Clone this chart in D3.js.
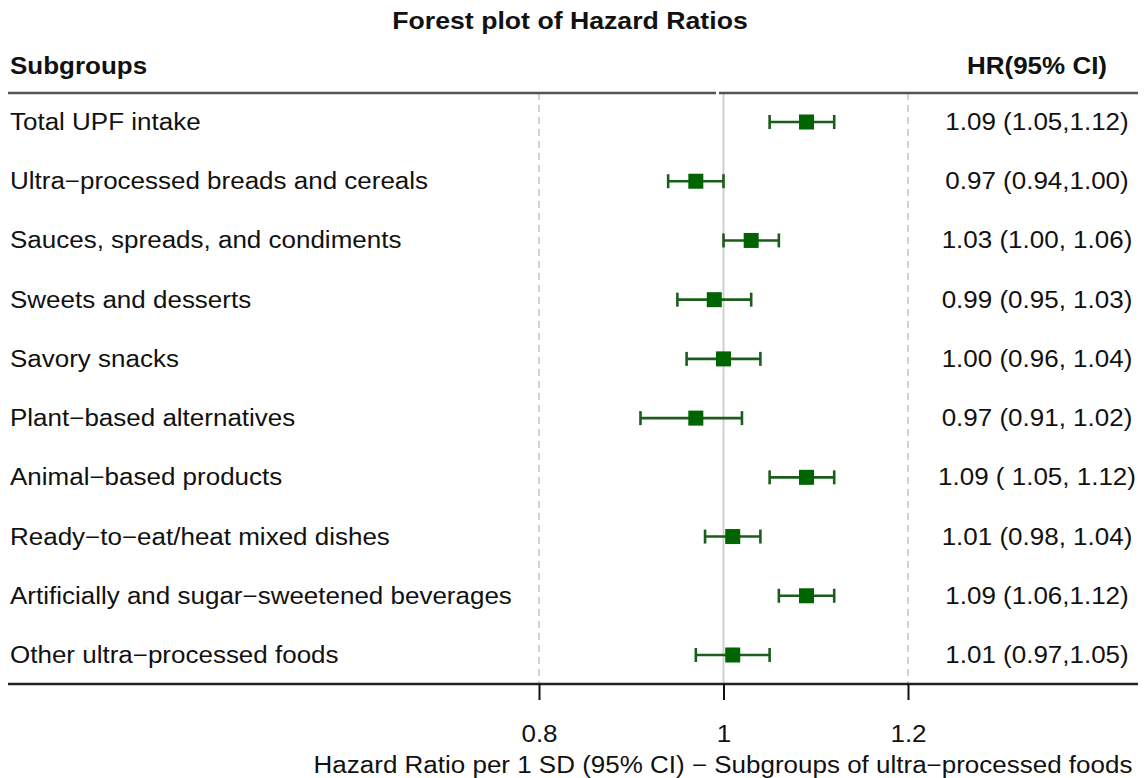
<!DOCTYPE html>
<html>
<head>
<meta charset="utf-8">
<script src="https://cdn.jsdelivr.net/npm/d3@7"></script>
<style>
  html, body { margin: 0; padding: 0; background: #fff; }
  svg { display: block; font-family: "Liberation Sans", Arial, Helvetica, sans-serif; }
</style>
</head>
<body>
<svg id="chart" width="1147" height="778"></svg>
<script>
const subgroups = [
  "Total UPF intake",
  "Ultra\u2212processed breads and cereals",
  "Sauces, spreads, and condiments",
  "Sweets and desserts",
  "Savory snacks",
  "Plant\u2212based alternatives",
  "Animal\u2212based products",
  "Ready\u2212to\u2212eat/heat mixed dishes",
  "Artificially and sugar\u2212sweetened beverages",
  "Other ultra\u2212processed foods"
];
const hr    = [1.09, 0.97, 1.03, 0.99, 1.00, 0.97, 1.09, 1.01, 1.09, 1.01];
const lower = [1.05, 0.94, 1.00, 0.95, 0.96, 0.91, 1.05, 0.98, 1.06, 0.97];
const upper = [1.12, 1.00, 1.06, 1.03, 1.04, 1.02, 1.12, 1.04, 1.12, 1.05];
const hrLabels = [
  "1.09 (1.05,1.12)",
  "0.97 (0.94,1.00)",
  "1.03 (1.00, 1.06)",
  "0.99 (0.95, 1.03)",
  "1.00 (0.96, 1.04)",
  "0.97 (0.91, 1.02)",
  "1.09 ( 1.05, 1.12)",
  "1.01 (0.98, 1.04)",
  "1.09 (1.06,1.12)",
  "1.01 (0.97,1.05)"
];
const tickValues = [0.8, 1, 1.2];
const tickLabels = ["0.8", "1", "1.2"];
const titleText = "Forest plot of Hazard Ratios";
const leftHeader = "Subgroups";
const rightHeader = "HR(95% CI)";
const xAxisTitle = "Hazard Ratio per 1 SD (95% CI) \u2212 Subgroups of ultra\u2212processed foods";

const data = subgroups.map((s, i) => ({ s, hr: hr[i], lo: lower[i], hi: upper[i], lab: hrLabels[i] }));

const svg = d3.select("#chart");
const fs = 23;
const sx = 1.13;          // horizontal stretch of the reference's type
const green = "#006400";
const barCol = "#1b5e1b";
const ink = "#111";

const x = d3.scaleLinear().domain([0.8, 1.2]).range([539, 908]);
const y = d3.scalePoint().domain(subgroups).range([122, 655]);

const topY = 93, botY = 684;
const hrColX = 1037;

function addText(sel, tx, ty, txt, opts = {}) {
  return sel.append("text")
    .attr("transform", `translate(${tx},${ty}) scale(${sx},1)`)
    .attr("text-anchor", opts.anchor || "start")
    .attr("font-weight", opts.bold ? "bold" : "normal")
    .attr("font-size", opts.size || fs)
    .attr("fill", ink)
    .text(txt);
}

// title
addText(svg, 570, 29, titleText, { anchor: "middle", bold: true, size: 23.6 });

// headers
addText(svg, 10, 74, leftHeader, { bold: true });
addText(svg, hrColX, 74, rightHeader, { bold: true, anchor: "middle" });

// reference lines
svg.append("line").attr("x1", x(1)).attr("x2", x(1)).attr("y1", topY).attr("y2", botY)
  .attr("stroke", "#cfcfcf").attr("stroke-width", 2);
[0.8, 1.2].forEach(v => {
  svg.append("line").attr("x1", x(v)).attr("x2", x(v)).attr("y1", topY).attr("y2", botY)
    .attr("stroke", "#d2d2d2").attr("stroke-width", 2).attr("stroke-dasharray", "7,5");
});

// header line (two panels)
svg.append("line").attr("x1", 8).attr("x2", 716).attr("y1", topY).attr("y2", topY)
  .attr("stroke", "#555").attr("stroke-width", 2.5);
svg.append("line").attr("x1", 719).attr("x2", 1138).attr("y1", topY).attr("y2", topY)
  .attr("stroke", "#555").attr("stroke-width", 2.5);

// rows
const rows = svg.append("g").selectAll("g").data(data).join("g")
  .attr("transform", d => `translate(0,${y(d.s)})`);

rows.each(function(d) {
  const g = d3.select(this);
  addText(g, 10, 8, d.s);
  addText(g, hrColX, 8, d.lab, { anchor: "middle" });
});

rows.append("line").attr("x1", d => x(d.lo)).attr("x2", d => x(d.hi)).attr("y1", 0).attr("y2", 0)
  .attr("stroke", barCol).attr("stroke-width", 2.6);
rows.append("line").attr("x1", d => x(d.lo)).attr("x2", d => x(d.lo)).attr("y1", -7).attr("y2", 7)
  .attr("stroke", barCol).attr("stroke-width", 2.6);
rows.append("line").attr("x1", d => x(d.hi)).attr("x2", d => x(d.hi)).attr("y1", -7).attr("y2", 7)
  .attr("stroke", barCol).attr("stroke-width", 2.6);
rows.append("rect").attr("x", d => x(d.hr) - 7.5).attr("y", -7.5).attr("width", 15).attr("height", 15)
  .attr("fill", green);

// bottom line + axis
svg.append("line").attr("x1", 8).attr("x2", 1138).attr("y1", botY).attr("y2", botY)
  .attr("stroke", "#222").attr("stroke-width", 2.5);
const axis = d3.axisBottom(x).tickValues(tickValues).tickSize(16)
  .tickFormat((d, i) => tickLabels[i]);
const ag = svg.append("g").attr("transform", `translate(0,${botY})`).call(axis);
ag.select(".domain").remove();
ag.selectAll(".tick line").attr("stroke", ink).attr("stroke-width", 2);
ag.selectAll(".tick text")
  .attr("y", 742 - botY).attr("dy", 0)
  .attr("transform", `scale(${sx},1)`)
  .attr("font-size", fs).attr("fill", ink)
  .attr("font-family", "Liberation Sans, Arial, sans-serif");

addText(svg, 723, 773, xAxisTitle, { anchor: "middle" });
</script>
</body>
</html>
